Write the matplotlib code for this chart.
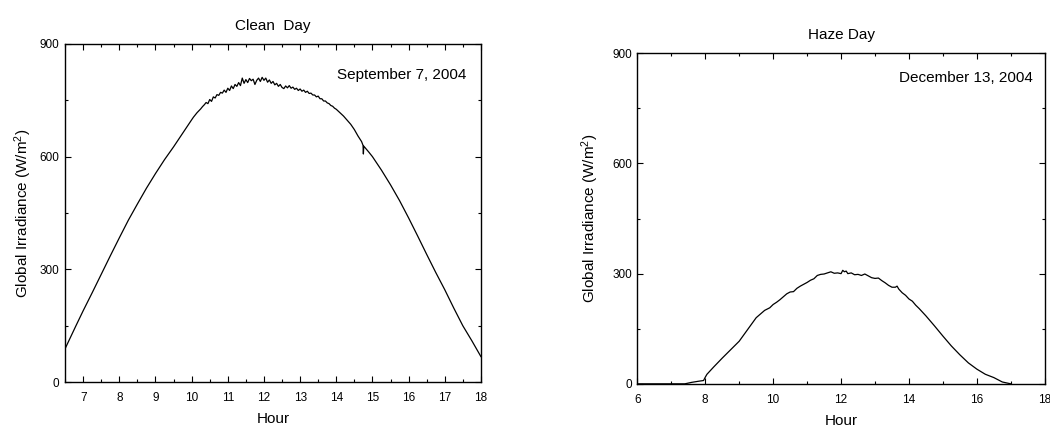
import numpy as np
import matplotlib
matplotlib.use('Agg')
import matplotlib.pyplot as plt
from matplotlib.ticker import MultipleLocator

plt.rcParams['font.family'] = ['Liberation Sans', 'DejaVu Sans']
plt.rcParams['mathtext.fontset'] = 'custom'
plt.rcParams['mathtext.rm'] = 'Liberation Sans'
plt.rcParams['mathtext.default'] = 'regular'

# clean day, September 7 2004
clean_hour = [6.50, 6.505, 6.8, 7.0, 7.25, 7.5, 7.75, 8.0, 8.25, 8.5, 8.75, 9.0, 9.25, 9.5, 9.75,
              10.00, 10.05, 10.10, 10.15, 10.20, 10.25, 10.30, 10.35, 10.40, 10.45,
              10.50, 10.55, 10.60, 10.65, 10.70, 10.75, 10.80, 10.85, 10.90, 10.95,
              11.00, 11.05, 11.10, 11.15, 11.20, 11.25, 11.30, 11.35, 11.40, 11.45,
              11.50, 11.55, 11.60, 11.65, 11.70, 11.75, 11.80, 11.85, 11.90, 11.95,
              12.00, 12.05, 12.10, 12.15, 12.20, 12.25, 12.30, 12.35, 12.40, 12.45,
              12.50, 12.55, 12.60, 12.65, 12.70, 12.75, 12.80, 12.85, 12.90, 12.95,
              13.00, 13.05, 13.10, 13.15, 13.20, 13.25, 13.30, 13.35, 13.40, 13.45,
              13.50, 13.55, 13.60, 13.65, 13.70, 13.75, 13.80, 13.85, 13.90, 13.95,
              14.00, 14.1, 14.2, 14.3, 14.4, 14.5, 14.6, 14.7, 14.74, 14.75, 14.76,
              14.9, 15.0, 15.25, 15.5, 15.75, 16.0, 16.25, 16.5, 16.75, 17.0, 17.25, 17.5, 17.75, 18.0]
clean_irr = [0, 90, 150, 190, 238, 287, 336, 384, 431, 474, 516, 555, 592, 626, 662,
             698, 705, 711, 717, 722, 727, 733, 738, 744, 741,
             752, 747, 759, 756, 765, 763, 771, 769, 777, 771,
             782, 776, 788, 781, 792, 787, 797, 789, 809, 795,
             805, 797, 808, 802, 806, 792, 803, 809, 800, 811,
             803, 809, 798, 804, 795, 800, 791, 795, 787, 792,
             784, 781, 788, 783, 789, 782, 785, 779, 782, 776,
             780, 774, 777, 771, 774, 768, 769, 764, 764, 759,
             761, 754, 754, 748, 748, 743, 741, 736, 734, 729,
             726, 717, 708, 697, 686, 672, 655, 640, 630, 607, 628,
             612, 600, 564, 525, 483, 437, 389, 340, 292, 246, 197, 150, 110, 68]

# haze day, December 13 2004
haze_hour = [6.0, 7.4, 7.6, 7.8, 7.95, 8.0, 8.05, 8.25, 8.5, 8.75, 9.0, 9.25, 9.5, 9.75, 9.9,
             10.0, 10.1, 10.2, 10.3, 10.4, 10.5, 10.6, 10.7, 10.8, 10.9,
             11.0, 11.1, 11.2, 11.3, 11.4, 11.5, 11.6, 11.7, 11.8, 11.9,
             12.0, 12.05, 12.1, 12.15, 12.2, 12.3, 12.4, 12.5, 12.6, 12.7, 12.8, 12.9,
             13.0, 13.1, 13.2, 13.3, 13.4, 13.5, 13.6, 13.65, 13.7, 13.8, 13.9,
             14.0, 14.1, 14.2, 14.3, 14.4, 14.5, 14.75, 15.0, 15.25, 15.5, 15.75,
             16.0, 16.25, 16.5, 16.75, 17.0]
haze_irr = [0, 0, 4, 7, 9, 18, 26, 46, 70, 93, 116, 148, 180, 200, 207,
            216, 222, 229, 237, 245, 250, 251, 260, 266, 271,
            276, 282, 286, 295, 298, 299, 302, 305, 301, 302,
            300, 309, 305, 307, 300, 302, 297, 298, 295, 299, 294, 289,
            287, 288, 281, 275, 268, 263, 263, 266, 258, 248, 241,
            231, 225, 214, 205, 195, 185, 158, 130, 103, 79, 57,
            40, 26, 17, 5, 0]

fig = plt.figure(figsize=(10.5, 4.26), dpi=100)
ax1 = fig.add_axes([0.062, 0.103, 0.396, 0.794])
ax2 = fig.add_axes([0.607, 0.099, 0.388, 0.776])


def style_axes(ax, xmaj, xmin, lpad):
    for s in ax.spines.values():
        s.set_linewidth(1.0)
    ax.xaxis.set_major_locator(MultipleLocator(xmaj))
    ax.xaxis.set_minor_locator(MultipleLocator(xmin))
    ax.yaxis.set_major_locator(MultipleLocator(300))
    ax.yaxis.set_minor_locator(MultipleLocator(150))
    ax.tick_params(which='both', direction='in', top=True, right=True, width=0.8, labelsize=8.5)
    ax.tick_params(which='major', length=4)
    ax.tick_params(which='minor', length=2.2)
    ax.tick_params(axis='x', pad=7)
    ax.tick_params(axis='y', pad=4)
    ax.set_ylim(0, 900)
    ax.set_xlabel('Hour', fontsize=11, labelpad=6)
    ax.set_ylabel('Global Irradiance (W/m$^2$)', fontsize=11, labelpad=lpad)


ax1.plot(clean_hour, clean_irr, color='black', lw=0.9)
ax1.set_xlim(6.5, 18)
style_axes(ax1, 1, 0.5, 4)
ax1.set_title('Clean  Day', fontsize=11, pad=10)
ax1.text(0.964, 0.908, 'September 7, 2004', transform=ax1.transAxes,
         ha='right', va='center', fontsize=11)

ax2.plot(haze_hour, haze_irr, color='black', lw=0.9)
ax2.set_xlim(6, 18)
style_axes(ax2, 2, 1, 8)
ax2.set_title('Haze Day', fontsize=11, pad=10)
ax2.text(0.970, 0.925, 'December 13, 2004', transform=ax2.transAxes,
         ha='right', va='center', fontsize=11)

fig.savefig('out.png', dpi=100)
